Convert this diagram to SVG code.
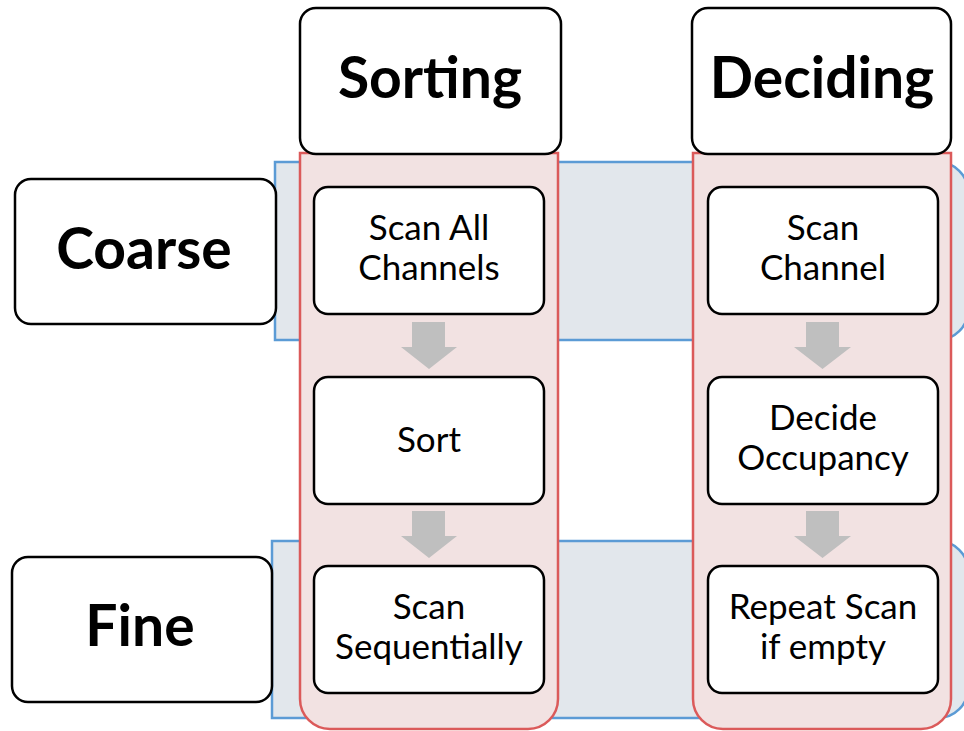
<svg xmlns="http://www.w3.org/2000/svg" width="964" height="731" viewBox="0 0 964 731">
  <style>
    .band { fill: #E2E7EC; stroke: #5B9BD5; stroke-width: 2.5; }
    .lane { fill: #F2E2E2; stroke: #DB5A5A; stroke-width: 2.5; }
    .box { fill: #FFFFFF; stroke: #000000; stroke-width: 2.5; }
    .step { font-family: Lato, "Open Sans", "Liberation Sans", sans-serif; font-size: 35px; fill: #000; text-anchor: middle; }
    .head { font-family: Lato, "Open Sans", "Liberation Sans", sans-serif; font-size: 57px; font-weight: bold; fill: #000; text-anchor: middle; }
    .flow { fill: #BFBFBF; }
  </style>

  <!-- horizontal level bands -->
  <g id="band-coarse">
    <path class="band" d="M275,162 H938 A30,30 0 0 1 968,192 V310 A30,30 0 0 1 938,340 H275 Z"/>
  </g>
  <g id="band-fine">
    <path class="band" d="M272,541 H938 A30,30 0 0 1 968,571 V688 A30,30 0 0 1 938,718 H272 Z"/>
  </g>

  <!-- vertical strategy lanes -->
  <g id="lane-sorting">
    <path class="lane" d="M300,153 H558 V699 A30,30 0 0 1 528,729 H330 A30,30 0 0 1 300,699 Z"/>
  </g>
  <g id="lane-deciding">
    <path class="lane" d="M693,153 H951 V699 A30,30 0 0 1 921,729 H723 A30,30 0 0 1 693,699 Z"/>
  </g>

  <!-- column headers -->
  <g id="header-sorting">
    <rect class="box" x="300" y="8" width="261" height="146" rx="16"/>
    <text class="head" x="430" y="98">Sorting</text>
  </g>
  <g id="header-deciding">
    <rect class="box" x="692" y="8" width="259" height="146" rx="16"/>
    <text class="head" x="822" y="98">Deciding</text>
  </g>

  <!-- row labels -->
  <g id="label-coarse">
    <rect class="box" x="15" y="179" width="261" height="145" rx="16"/>
    <text class="head" x="144" y="269">Coarse</text>
  </g>
  <g id="label-fine">
    <rect class="box" x="12" y="557" width="260" height="145" rx="16"/>
    <text class="head" x="140" y="646">Fine</text>
  </g>

  <!-- connectors -->
  <g id="connectors">
    <path class="flow" d="M412,322 H445 V347 H457 L429,369 L401,347 H412 Z"/>
    <path class="flow" d="M412,511 H445 V536 H457 L429,558 L401,536 H412 Z"/>
    <path class="flow" d="M806,322 H839 V347 H851 L822.5,369 L794,347 H806 Z"/>
    <path class="flow" d="M806,511 H839 V536 H851 L822.5,558 L794,536 H806 Z"/>
  </g>

  <!-- sorting steps -->
  <g id="scan-all-channels">
    <rect class="box" x="314" y="187" width="230" height="127" rx="14"/>
    <text class="step" x="429" y="240">Scan All</text>
    <text class="step" x="429" y="280">Channels</text>
  </g>
  <g id="sort">
    <rect class="box" x="314" y="377" width="230" height="127" rx="14"/>
    <text class="step" x="429" y="452">Sort</text>
  </g>
  <g id="scan-sequentially">
    <rect class="box" x="314" y="566" width="230" height="127" rx="14"/>
    <text class="step" x="429" y="619">Scan</text>
    <text class="step" x="429" y="659">Sequentially</text>
  </g>

  <!-- deciding steps -->
  <g id="scan-channel">
    <rect class="box" x="708" y="187" width="230" height="127" rx="14"/>
    <text class="step" x="823" y="240">Scan</text>
    <text class="step" x="823" y="280">Channel</text>
  </g>
  <g id="decide-occupancy">
    <rect class="box" x="708" y="377" width="230" height="127" rx="14"/>
    <text class="step" x="823" y="430">Decide</text>
    <text class="step" x="823" y="470">Occupancy</text>
  </g>
  <g id="repeat-scan">
    <rect class="box" x="708" y="566" width="230" height="127" rx="14"/>
    <text class="step" x="823" y="619">Repeat Scan</text>
    <text class="step" x="823" y="659">if empty</text>
  </g>
</svg>
